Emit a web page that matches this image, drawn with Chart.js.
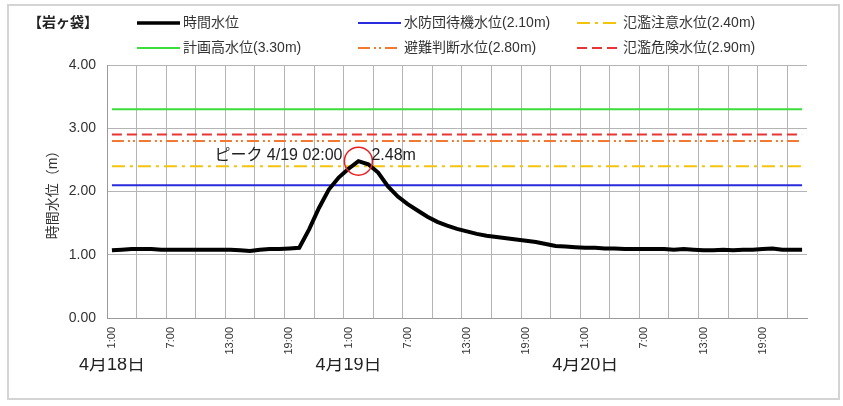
<!DOCTYPE html>
<html lang="ja">
<head>
    <meta charset="UTF-8" />
    <title>岩ヶ袋 時間水位</title>
    <script src="https://cdn.jsdelivr.net/npm/chart.js"></script>
    <style>
        html, body {
            margin: 0;
            padding: 0;
            background: #fff;
        }
        .wrap {
            position: relative;
            width: 843px;
            height: 406px;
        }
        .frame {
            position: absolute;
            left: 7px;
            top: 4px;
            width: 829px;
            height: 392px;
            border: 2px solid #d4d4d4;
        }
        canvas {
            position: absolute;
            left: 0;
            top: 0;
        }
    </style>
</head>
<body>
    <div class="wrap">
        <div class="frame"></div>
        <canvas id="chart" width="843" height="406"></canvas>
    </div>

    <script>
        const stationName = '【岩ヶ袋】';
        const dayLabels = ['4月18日', '4月19日', '4月20日'];
        const dayShort = ['4/18', '4/19', '4/20'];
        const hourLabels = ['1:00', '2:00', '3:00', '4:00', '5:00', '6:00', '7:00', '8:00',
            '9:00', '10:00', '11:00', '12:00', '13:00', '14:00', '15:00', '16:00',
            '17:00', '18:00', '19:00', '20:00', '21:00', '22:00', '23:00', '24:00'];
        // 4/18 1:00 ... 4/20 23:00, one category per hour
        const timeLabels = [];
        dayShort.forEach((d, di) => {
            const n = di === 2 ? 23 : 24;
            hourLabels.slice(0, n).forEach(h => timeLabels.push(d + ' ' + h));
        });

        const waterLevel = [
            1.07, 1.08, 1.09, 1.09, 1.09, 1.08, 1.08, 1.08, 1.08, 1.08, 1.08, 1.08,
            1.08, 1.07, 1.06, 1.08, 1.09, 1.09, 1.10, 1.11, 1.40, 1.74, 2.03, 2.22,
            2.36, 2.48, 2.43, 2.30, 2.08, 1.92, 1.80, 1.70, 1.60, 1.52, 1.46, 1.41,
            1.37, 1.33, 1.30, 1.28, 1.26, 1.24, 1.22, 1.20, 1.17, 1.14, 1.13, 1.12,
            1.11, 1.11, 1.10, 1.10, 1.09, 1.09, 1.09, 1.09, 1.09, 1.08, 1.09, 1.08,
            1.07, 1.07, 1.08, 1.07, 1.08, 1.08, 1.09, 1.10, 1.08, 1.08, 1.08
        ];

        // legend order (row by row)
        const levelNames = ['水防団待機水位', '氾濫注意水位', '計画高水位', '避難判断水位', '氾濫危険水位'];
        const levelValues = [2.10, 2.40, 3.30, 2.80, 2.90];
        const levelColors = ['#2a2ade', '#f2c40c', '#3ddc3d', '#f07a32', '#e93434'];
        const levelDashes = [[], [13, 5, 3, 5], [], [12, 4, 2, 3, 2, 4], [10, 5]];

        const yTicks = [0, 1, 2, 3, 4];

        const mixFont = '"Liberation Sans", "Noto Sans CJK JP", sans-serif';
        const peakIndex = waterLevel.indexOf(Math.max(...waterLevel));
        const firstLabel = timeLabels[0];
        const lastLabel = timeLabels[timeLabels.length - 1];
        const hourOf = i => timeLabels[i].split(' ')[1];

        const datasets = [{
            label: '時間水位',
            data: waterLevel,
            borderColor: '#000',
            borderWidth: 4,
            tension: 0,
            pointRadius: c => c.dataIndex === peakIndex ? 14 : 0,
            pointBorderColor: '#e82020',
            pointBorderWidth: 1.5,
            pointBackgroundColor: 'rgba(0,0,0,0)'
        }];
        levelNames.forEach((name, i) => {
            datasets.push({
                label: `${name}(${levelValues[i].toFixed(2)}m)`,
                data: [{ x: firstLabel, y: levelValues[i] }, { x: lastLabel, y: levelValues[i] }],
                borderColor: levelColors[i],
                borderDash: levelDashes[i],
                borderWidth: 2,
                pointRadius: 0
            });
        });

        // legend laid out in two rows of three, like the original sheet
        const legendSlots = [[137, 23], [358, 23], [577, 23], [137, 48], [358, 48], [577, 48]];
        const legendPlugin = {
            id: 'sheetLegend',
            afterDraw(chart) {
                const c = chart.ctx;
                c.save();
                c.fillStyle = '#222';
                c.font = 'bold 14px ' + mixFont;
                c.textBaseline = 'middle';
                c.fillText(stationName, 28, 23);
                c.font = '14px ' + mixFont;
                chart.data.datasets.forEach((ds, i) => {
                    const [x, y] = legendSlots[i];
                    c.beginPath();
                    c.strokeStyle = ds.borderColor;
                    c.lineWidth = i === 0 ? 3.5 : ds.borderWidth;
                    c.setLineDash(ds.borderDash || []);
                    c.moveTo(x, y);
                    c.lineTo(x + 43, y);
                    c.stroke();
                    c.setLineDash([]);
                    c.fillStyle = '#333';
                    c.fillText(ds.label, x + 46, y);
                });
                c.restore();
            }
        };

        const peakPlugin = {
            id: 'peakNote',
            afterDatasetsDraw(chart) {
                const pt = chart.getDatasetMeta(0).data[peakIndex];
                const hour = hourOf(peakIndex).padStart(5, '0');
                const day = dayShort[Math.floor(peakIndex / 24)];
                const c = chart.ctx;
                c.save();
                c.fillStyle = '#222';
                c.font = '16px ' + mixFont;
                c.textBaseline = 'middle';
                c.textAlign = 'left';
                c.fillText(`ピーク ${day} ${hour}`, pt.x - 144, pt.y - 6);
                c.fillText(`${waterLevel[peakIndex].toFixed(2)}m`, pt.x + 13, pt.y - 6);
                c.restore();
            }
        };

        const ctx = document.getElementById('chart').getContext('2d');
        const chart = new Chart(ctx, {
            type: 'line',
            data: { labels: timeLabels, datasets: datasets },
            options: {
                responsive: false,
                animation: false,
                layout: { padding: { left: 20, right: 36, top: 65, bottom: 30 } },
                plugins: {
                    legend: { display: false },
                    tooltip: { enabled: false }
                },
                scales: {
                    x: {
                        type: 'category',
                        offset: true,
                        grid: {
                            offset: true,
                            drawTicks: false,
                            color: c => (c.index % 3 === 0 || c.index === timeLabels.length) ? '#b4b4b4' : 'rgba(0,0,0,0)',
                            lineWidth: 1
                        },
                        border: { color: '#9a9a9a' },
                        ticks: {
                            autoSkip: false,
                            minRotation: 90,
                            maxRotation: 90,
                            padding: 9,
                            color: '#333',
                            font: { family: mixFont, size: 11 },
                            callback(v, i) { return i % 6 === 0 ? hourOf(i) : ''; }
                        },
                        afterFit(s) { s.height = 40; }
                    },
                    x2: {
                        type: 'category',
                        position: 'bottom',
                        weight: 1,
                        offset: true,
                        labels: timeLabels,
                        grid: { display: false, drawTicks: false },
                        border: { display: false },
                        ticks: {
                            autoSkip: false,
                            maxRotation: 0,
                            minRotation: 0,
                            padding: -4,
                            color: '#222',
                            font: { family: mixFont, size: 18 },
                            callback(v, i) { return i % 24 === 0 ? dayLabels[i / 24] : ''; }
                        },
                        afterFit(s) { s.height = 18; }
                    },
                    y: {
                        min: 0,
                        max: 4,
                        afterBuildTicks(s) { s.ticks = yTicks.map(v => ({ value: v })); },
                        grid: { drawTicks: false, color: '#b4b4b4' },
                        border: { color: '#9a9a9a' },
                        ticks: {
                            padding: 11,
                            color: '#333',
                            font: { family: mixFont, size: 14 },
                            callback: v => v.toFixed(2)
                        },
                        title: {
                            display: true,
                            text: '時間水位（m）',
                            color: '#333',
                            font: { family: mixFont, size: 14 },
                            padding: { top: 25 }
                        },
                        afterFit(s) { s.width = 87; }
                    }
                }
            },
            plugins: [legendPlugin, peakPlugin]
        });
    </script>
</body>
</html>
